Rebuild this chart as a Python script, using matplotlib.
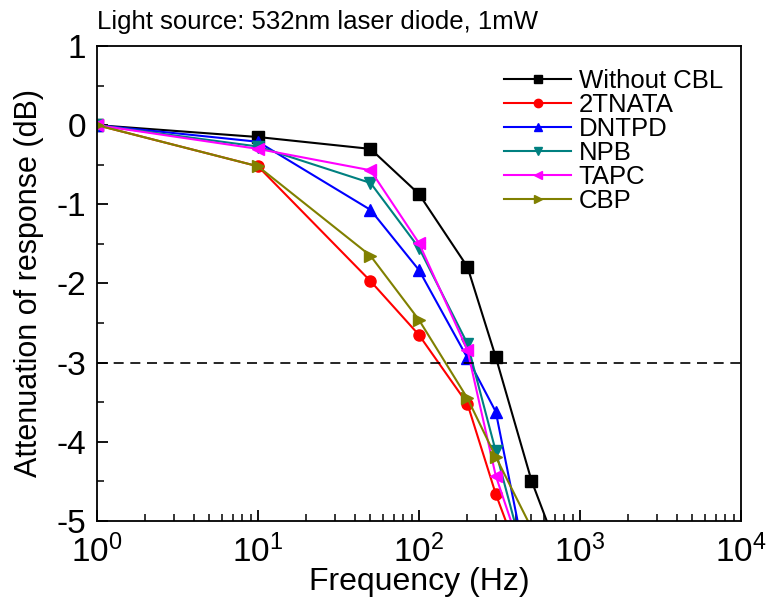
import matplotlib
matplotlib.use("Agg")
import matplotlib.pyplot as plt
from matplotlib.ticker import LogLocator, MultipleLocator, NullFormatter

plt.rcParams['font.family'] = ['Liberation Sans', 'DejaVu Sans']
plt.rcParams['axes.unicode_minus'] = False
plt.rcParams['mathtext.fontset'] = 'custom'
plt.rcParams['mathtext.rm'] = 'Liberation Sans'
plt.rcParams['mathtext.it'] = 'Liberation Sans:italic'
plt.rcParams['mathtext.default'] = 'regular'

# === DATA ===
freq = [1, 10, 50, 100, 200, 300, 500]
freq_cbl = [1, 10, 50, 100, 200, 300, 500, 1000]

without_cbl = [0, -0.15, -0.30, -0.87, -1.79, -2.93, -4.49, -6.11]
tnata = [0, -0.52, -1.97, -2.65, -3.52, -4.66, -5.87]
dntpd = [0, -0.21, -1.07, -1.83, -2.94, -3.62, -5.88]
npb = [0, -0.27, -0.73, -1.55, -2.76, -4.12, -5.81]
tapc = [0, -0.30, -0.57, -1.49, -2.84, -4.43, -5.77]
cbp = [0, -0.52, -1.65, -2.46, -3.45, -4.19, -5.09]

series = [
    ("Without CBL", freq_cbl, without_cbl, "black", "s"),
    ("2TNATA", freq, tnata, "#FF0000", "o"),
    ("DNTPD", freq, dntpd, "#0000FF", "^"),
    ("NPB", freq, npb, "#008080", "v"),
    ("TAPC", freq, tapc, "#FF00FF", "<"),
    ("CBP", freq, cbp, "#808000", ">"),
]

fig = plt.figure(figsize=(7.72, 6.13), dpi=100)
ax = fig.add_axes([0.1256, 0.1501, 0.8342, 0.7749])

for name, x, y, col, mk in series:
    ax.plot(x, y, color=col, marker=mk, markersize=8, linewidth=1.5,
            markeredgecolor=col, label=name)

# -3 dB reference line
ax.axhline(-3, color="black", linewidth=1.2, linestyle=(0, (6, 4)))

ax.set_xscale("log")
ax.set_xlim(1, 1e4)
ax.set_ylim(-5, 1)
ax.yaxis.set_major_locator(MultipleLocator(1))
ax.yaxis.set_minor_locator(MultipleLocator(0.5))
ax.xaxis.set_major_locator(LogLocator(base=10, numticks=10))
ax.xaxis.set_minor_locator(LogLocator(base=10, subs=range(2, 10), numticks=10))
ax.xaxis.set_minor_formatter(NullFormatter())

ax.tick_params(which="major", direction="in", length=8, width=1.3, labelsize=24)
ax.tick_params(which="minor", direction="in", length=5, width=1.1)
ax.tick_params(axis="x", which="major", pad=10)
ax.tick_params(axis="y", which="major", pad=8)
for sp in ax.spines.values():
    sp.set_linewidth(1.3)

ax.set_xlabel("Frequency (Hz)", fontsize=23, labelpad=-2)
ax.set_ylabel("Attenuation of response (dB)", fontsize=22, labelpad=9)
ax.text(0.0, 1.025, "Light source: 532nm laser diode, 1mW", transform=ax.transAxes,
        fontsize=18.5, ha="left", va="bottom")

ax.legend(loc="upper right", bbox_to_anchor=(1.0, 0.99), frameon=False, fontsize=18.5,
          handlelength=2.6, labelspacing=0.0, handletextpad=0.3, borderaxespad=0.3,
          markerscale=0.75)

fig.savefig("out.png", dpi=100)
